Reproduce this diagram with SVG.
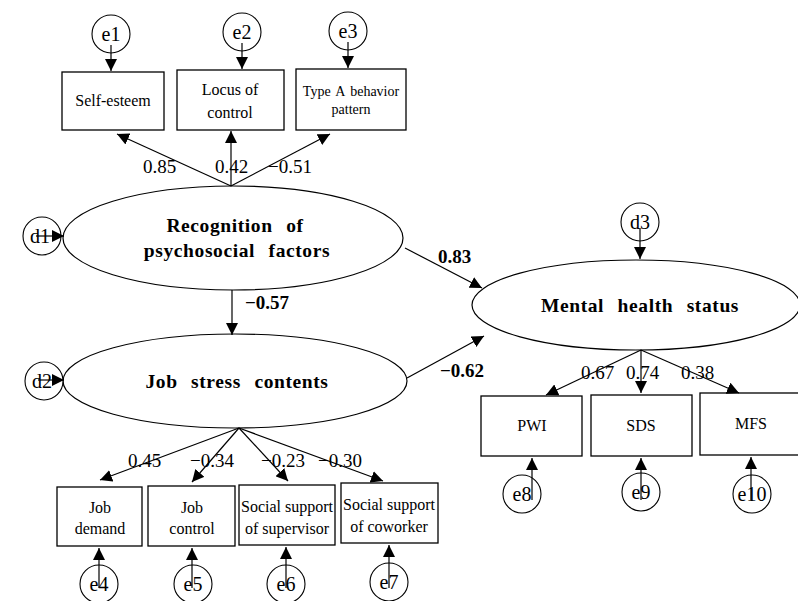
<svg xmlns="http://www.w3.org/2000/svg" width="798" height="601" viewBox="0 0 798 601">
<style>
.box{fill:#fff;stroke:#000;stroke-width:1.3}
.lat{fill:#fff;stroke:#000;stroke-width:1.2}
.err{fill:#fff;stroke:#000;stroke-width:1.1}
.edge{stroke:#000;stroke-width:1.2;fill:none;marker-end:url(#ah)}
text{font-family:"Liberation Serif","DejaVu Serif","Times New Roman",serif;fill:#000}
.t{text-anchor:middle}
.bt{font-size:16px}
.lt{font-size:19.5px;font-weight:bold;letter-spacing:0.6px;word-spacing:8px}
.et{font-size:20px}
.num{font-size:19px}
.bnum{font-size:19px;font-weight:bold}
</style>
<defs>
<marker id="ah" viewBox="0 0 12 12" refX="12" refY="6" markerWidth="12" markerHeight="12" markerUnits="userSpaceOnUse" orient="auto">
<path d="M0,0 L12,6 L0,12 Z" fill="#000"/>
</marker>
</defs>
<rect width="798" height="601" fill="#fff"/>

<g id="e1"><circle class="err" cx="111" cy="34" r="19"/><text class="t et" x="111" y="41">e1</text></g>
<g id="e2"><circle class="err" cx="242" cy="32" r="19"/><text class="t et" x="242" y="39">e2</text></g>
<g id="e3"><circle class="err" cx="348" cy="31" r="19"/><text class="t et" x="348" y="38">e3</text></g>

<g id="self-esteem"><rect class="box" x="62" y="72" width="102" height="58"/><text class="t bt" x="113" y="106">Self-esteem</text></g>
<g id="locus"><rect class="box" x="177" y="70" width="107" height="60"/><text class="t bt" x="230" y="95">Locus of</text><text class="t bt" x="230" y="118">control</text></g>
<g id="typea"><rect class="box" x="296" y="69" width="110" height="61"/><text class="t" style="font-size:14px;word-spacing:2px" x="351" y="96">Type A behavior</text><text class="t" style="font-size:14px" x="351" y="114">pattern</text></g>

<text class="num" x="143" y="173">0.85</text>
<text class="num" x="215" y="173">0.42</text>
<text class="num" x="268" y="173">−0.51</text>

<g id="recognition"><ellipse class="lat" cx="233" cy="238" rx="170" ry="52"/><text class="t lt" x="235" y="232">Recognition of</text><text class="t lt" x="237" y="257">psychosocial factors</text></g>
<g id="d1"><circle class="err" cx="42" cy="236" r="19"/><text class="t et" x="40" y="243">d1</text></g>

<text class="bnum" x="245" y="309">−0.57</text>

<g id="jobstress"><ellipse class="lat" cx="235" cy="381" rx="172" ry="47"/><text class="t lt" x="237" y="388">Job stress contents</text></g>
<g id="d2"><circle class="err" cx="44" cy="381" r="19"/><text class="t et" x="42" y="388">d2</text></g>

<text class="bnum" x="438" y="263">0.83</text>
<text class="bnum" x="440" y="377">−0.62</text>

<g id="mental"><ellipse class="lat" cx="636" cy="305" rx="164" ry="45"/><text class="t lt" x="640" y="312">Mental health status</text></g>
<g id="d3"><circle class="err" cx="640" cy="222" r="19"/><text class="t et" x="640" y="229">d3</text></g>

<text class="num" x="581" y="379">0.67</text>
<text class="num" x="626" y="379">0.74</text>
<text class="num" x="681" y="379">0.38</text>

<g id="pwi"><rect class="box" x="481" y="396" width="101" height="60"/><text class="t bt" x="532" y="431">PWI</text></g>
<g id="sds"><rect class="box" x="591" y="395" width="101" height="61"/><text class="t bt" x="641" y="431">SDS</text></g>
<g id="mfs"><rect class="box" x="700" y="393" width="110" height="62"/><text class="t bt" x="751" y="429">MFS</text></g>

<g id="e8"><circle class="err" cx="522" cy="494" r="19"/><text class="t et" x="522" y="501">e8</text></g>
<g id="e9"><circle class="err" cx="641" cy="492" r="19"/><text class="t et" x="641" y="499">e9</text></g>
<g id="e10"><circle class="err" cx="752" cy="494" r="19"/><text class="t et" x="752" y="501">e10</text></g>

<text class="num" x="128" y="467">0.45</text>
<text class="num" x="190" y="467">−0.34</text>
<text class="num" x="261" y="467">−0.23</text>
<text class="num" x="318" y="467">−0.30</text>

<g id="jobdemand"><rect class="box" x="57" y="487" width="85" height="59"/><text class="t bt" x="100" y="513">Job</text><text class="t bt" x="100" y="534">demand</text></g>
<g id="jobcontrol"><rect class="box" x="148" y="486" width="87" height="60"/><text class="t bt" x="192" y="513">Job</text><text class="t bt" x="192" y="534">control</text></g>
<g id="supervisor"><rect class="box" x="239" y="485" width="96" height="60"/><text class="t bt" x="287" y="512">Social support</text><text class="t bt" x="287" y="534">of supervisor</text></g>
<g id="coworker"><rect class="box" x="341" y="483" width="97" height="60"/><text class="t bt" x="389" y="510">Social support</text><text class="t bt" x="389" y="532">of coworker</text></g>

<g id="e4"><circle class="err" cx="99" cy="584" r="19"/><text class="t et" x="99" y="591">e4</text></g>
<g id="e5"><circle class="err" cx="193" cy="584" r="19"/><text class="t et" x="193" y="591">e5</text></g>
<g id="e6"><circle class="err" cx="286" cy="584" r="19"/><text class="t et" x="286" y="591">e6</text></g>
<g id="e7"><circle class="err" cx="389" cy="582" r="19"/><text class="t et" x="389" y="589">e7</text></g>

<g id="connectors">
<line class="edge" x1="111" y1="45" x2="111" y2="71"/>
<line class="edge" x1="242" y1="43" x2="242" y2="69"/>
<line class="edge" x1="348" y1="42" x2="348" y2="68"/>
<line class="edge" x1="231" y1="186" x2="117" y2="134"/>
<line class="edge" x1="231" y1="186" x2="231" y2="131"/>
<line class="edge" x1="231" y1="186" x2="330" y2="134"/>
<line class="edge" x1="36" y1="236" x2="64" y2="236"/>
<line class="edge" x1="232" y1="290" x2="232" y2="335"/>
<line class="edge" x1="38" y1="380" x2="64" y2="380"/>
<line class="edge" x1="405" y1="248" x2="482" y2="288"/>
<line class="edge" x1="407" y1="378" x2="484" y2="336"/>
<line class="edge" x1="640" y1="228" x2="640" y2="259"/>
<line class="edge" x1="239" y1="428" x2="100" y2="480"/>
<line class="edge" x1="239" y1="428" x2="192" y2="482"/>
<line class="edge" x1="239" y1="428" x2="288" y2="481"/>
<line class="edge" x1="239" y1="428" x2="383" y2="481"/>
<line class="edge" x1="641" y1="350" x2="546" y2="395"/>
<line class="edge" x1="641" y1="350" x2="641" y2="393"/>
<line class="edge" x1="641" y1="350" x2="739" y2="393"/>
<line class="edge" x1="99" y1="588" x2="99" y2="548"/>
<line class="edge" x1="192" y1="588" x2="192" y2="548"/>
<line class="edge" x1="286" y1="588" x2="286" y2="547"/>
<line class="edge" x1="389" y1="588" x2="389" y2="545"/>
<line class="edge" x1="532" y1="500" x2="532" y2="458"/>
<line class="edge" x1="641" y1="500" x2="641" y2="458"/>
<line class="edge" x1="751" y1="500" x2="751" y2="457"/>
</g>
</svg>
